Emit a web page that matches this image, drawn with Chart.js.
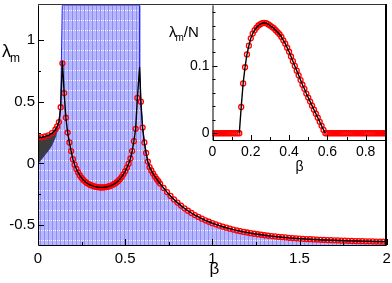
<!DOCTYPE html>
<html>
<head>
<meta charset="utf-8">
<script src="https://cdn.jsdelivr.net/npm/chart.js@4/dist/chart.umd.min.js"></script>
<style>
  html, body { margin: 0; padding: 0; background: #fff; }
  #wrap { position: relative; width: 392px; height: 283px; }
  #wrap canvas { position: absolute; left: 0; top: 0; }
</style>
</head>
<body>
<div id="wrap">
  <canvas id="mainChart" width="392" height="283"></canvas>
  <canvas id="insetChart" width="392" height="283"></canvas>
</div>
<script>
// ---- main panel: lambda_m vs beta (red circles) ----
const dotBeta = [
  0, 0.02, 0.04, 0.06, 0.08, 0.10, 0.11, 0.12, 0.13, 0.14,
  0.15, 0.16, 0.17, 0.18, 0.19, 0.20, 0.21, 0.22, 0.23, 0.24,
  0.25, 0.26, 0.27, 0.28, 0.29, 0.30, 0.31, 0.32, 0.33, 0.34,
  0.35, 0.36, 0.37, 0.38, 0.39, 0.40, 0.41, 0.42, 0.43, 0.44,
  0.45, 0.46, 0.47, 0.48, 0.49, 0.50, 0.51, 0.52, 0.53, 0.54,
  0.55, 0.56, 0.57, 0.59, 0.60, 0.61, 0.62, 0.63, 0.64, 0.65,
  0.66, 0.67, 0.68, 0.69, 0.70, 0.72, 0.74, 0.76, 0.78, 0.80,
  0.82, 0.84, 0.86, 0.88, 0.90, 0.92, 0.94, 0.96, 0.98, 1.00,
  1.02, 1.04, 1.06, 1.08, 1.10, 1.12, 1.14, 1.16, 1.18, 1.20,
  1.22, 1.24, 1.26, 1.28, 1.30, 1.32, 1.34, 1.36, 1.38, 1.40,
  1.42, 1.44, 1.46, 1.48, 1.50, 1.52, 1.54, 1.56, 1.58, 1.60,
  1.62, 1.64, 1.66, 1.68, 1.70, 1.72, 1.74, 1.76, 1.78, 1.80,
  1.82, 1.84, 1.86, 1.88, 1.90, 1.92, 1.94, 1.96, 1.98, 2.00
];
const dotLambda = [
  0.210, 0.212, 0.218, 0.228, 0.245, 0.275, 0.300, 0.335, 0.455, 0.810,
  0.570, 0.370, 0.250, 0.170, 0.100, 0.035, -0.010, -0.045, -0.073, -0.097,
  -0.117, -0.133, -0.147, -0.158, -0.167, -0.174, -0.180, -0.185, -0.188, -0.191,
  -0.193, -0.194, -0.194, -0.193, -0.191, -0.188, -0.184, -0.179, -0.172, -0.164,
  -0.154, -0.142, -0.127, -0.109, -0.088, -0.063, -0.034, -0.002, 0.040, 0.100,
  0.180, 0.280, 0.530, 0.500, 0.290, 0.170, 0.085, 0.015, -0.030, -0.057,
  -0.082, -0.104, -0.125, -0.144, -0.163, -0.198, -0.232, -0.263, -0.291, -0.317,
  -0.341, -0.363, -0.383, -0.401, -0.418, -0.433, -0.447, -0.460, -0.472, -0.483,
  -0.493, -0.503, -0.512, -0.520, -0.528, -0.535, -0.542, -0.548, -0.554, -0.559,
  -0.564, -0.569, -0.573, -0.577, -0.581, -0.585, -0.588, -0.591, -0.594, -0.597,
  -0.599, -0.602, -0.604, -0.606, -0.608, -0.610, -0.612, -0.613, -0.615, -0.616,
  -0.618, -0.619, -0.620, -0.621, -0.622, -0.623, -0.624, -0.625, -0.626, -0.627,
  -0.628, -0.628, -0.629, -0.630, -0.630, -0.631, -0.632, -0.632, -0.633, -0.633
];
// cusp tops of the black curve
const peakBeta = [0.14, 0.583];
const peakLambda = [0.83, 0.78];
// blue lower edge of the dark region at small beta
const edgeBeta = [0, 0.02, 0.04, 0.06, 0.08, 0.10, 0.11, 0.12];
const edgeLambda = [0, 0.035, 0.07, 0.105, 0.15, 0.215, 0.27, 0.335];
// shaded beta band
const bandRange = [0.139, 0.583];

const mainXTicks = [0, 0.5, 1, 1.5, 2];
const mainXMinor = [0.25, 0.75, 1.25, 1.75];
const mainYTicks = [-0.5, 0, 0.5, 1];
const mainYMinor = [-0.25, 0.25, 0.75];

// ---- inset: lambda_m / N vs beta ----
const insetBeta = [
  0.00, 0.01, 0.02, 0.03, 0.04, 0.05, 0.06, 0.07, 0.08, 0.09,
  0.10, 0.11, 0.12, 0.13, 0.14, 0.15, 0.16, 0.17, 0.18, 0.19,
  0.20, 0.21, 0.22, 0.23, 0.24, 0.25, 0.26, 0.27, 0.28, 0.29,
  0.30, 0.31, 0.32, 0.33, 0.34, 0.35, 0.36, 0.37, 0.38, 0.39,
  0.40, 0.41, 0.42, 0.43, 0.44, 0.45, 0.46, 0.47, 0.48, 0.49,
  0.50, 0.51, 0.52, 0.53, 0.54, 0.55, 0.56, 0.57, 0.58, 0.59,
  0.60, 0.61, 0.62, 0.63, 0.64, 0.65, 0.66, 0.67, 0.68, 0.69,
  0.70, 0.71, 0.72, 0.73, 0.74, 0.75, 0.76, 0.77, 0.78, 0.79,
  0.80, 0.81, 0.82, 0.83, 0.84, 0.85, 0.86, 0.87, 0.88, 0.89,
  0.90, 0.91
];
const insetRatio = [
  0, 0, 0, 0, 0, 0, 0, 0, 0, 0,
  0, 0, 0, 0, 0, 0.039, 0.074, 0.098, 0.117, 0.130,
  0.141, 0.148, 0.153, 0.157, 0.160, 0.162, 0.1635, 0.164, 0.1635, 0.162,
  0.160, 0.158, 0.156, 0.153, 0.150, 0.147, 0.143, 0.138, 0.133, 0.127,
  0.121, 0.114, 0.107, 0.100, 0.093, 0.086, 0.079, 0.072, 0.066, 0.059,
  0.053, 0.047, 0.041, 0.035, 0.029, 0.023, 0.017, 0.011, 0.005, 0,
  0, 0, 0, 0, 0, 0, 0, 0, 0, 0,
  0, 0, 0, 0, 0, 0, 0, 0, 0, 0,
  0, 0, 0, 0, 0, 0, 0, 0, 0, 0,
  0, 0
];
const insetXTicks = [0, 0.2, 0.4, 0.6, 0.8];
const insetXMinor = [0.1, 0.3, 0.5, 0.7];
const insetYTicks = [0, 0.1];
const insetYMinor = [0.02, 0.04, 0.06, 0.08, 0.12, 0.14, 0.16, 0.18];

const FONT = "'Liberation Sans', Arial, Helvetica, sans-serif";
const RED = 'rgb(255,0,0)';

const pts = (xs, ys) => xs.map((x, i) => ({ x: x, y: ys[i] }));

// main series
const dots = pts(dotBeta, dotLambda);
const curve = dots.filter(p => !peakBeta.includes(p.x))
  .concat(pts(peakBeta, peakLambda))
  .sort((a, b) => a.x - b.x);

const Y_MIN = -0.66, Y_MAX = 1.28;
const edgeEnd = edgeBeta[edgeBeta.length - 1];
const bandPoly = pts(edgeBeta, edgeLambda)
  .concat(curve.filter(p => p.x > edgeEnd && p.x < bandRange[0]))
  .concat([{ x: bandRange[0], y: Y_MAX }, { x: bandRange[1], y: Y_MAX }])
  .concat(curve.filter(p => p.x >= bandRange[1]));
const darkTop = curve.filter(p => p.x <= edgeEnd);
const edgeLine = pts(edgeBeta, edgeLambda);

// inset series
const insetDots = pts(insetBeta, insetRatio);
const insetLine = insetDots.filter((p, i) =>
  p.y > 0 || insetRatio[i + 1] > 0 || insetRatio[i - 1] > 0);

function bandPattern(ctx) {
  const c = document.createElement('canvas');
  c.width = 4; c.height = 10;
  const g = c.getContext('2d');
  g.fillStyle = 'rgb(184,184,255)';
  g.fillRect(0, 0, 4, 10);
  g.fillStyle = 'rgb(140,140,242)';
  g.fillRect(0, 0, 1, 10);
  g.fillStyle = '#ffffff';
  g.fillRect(1, 0, 1, 1);
  g.fillRect(3, 0, 1, 1);
  return ctx.createPattern(c, 'repeat');
}

function tickMarks(ctx, chart, t) {
  const a = chart.chartArea, sx = chart.scales.x, sy = chart.scales.y;
  ctx.beginPath();
  const vx = (v, len) => {
    const px = Math.round(sx.getPixelForValue(v)) + 0.5;
    ctx.moveTo(px, a.bottom); ctx.lineTo(px, a.bottom - len);
  };
  const vy = (v, len) => {
    const py = Math.round(sy.getPixelForValue(v)) + 0.5;
    ctx.moveTo(a.left, py); ctx.lineTo(a.left + len, py);
  };
  t.xMajor.forEach(v => vx(v, t.major));
  t.xMinor.forEach(v => vx(v, t.minor));
  t.yMajor.forEach(v => vy(v, t.major));
  t.yMinor.forEach(v => vy(v, t.minor));
  ctx.stroke();
}

// top and right edges of the outer box
function outerFrame(ctx, a) {
  ctx.fillStyle = '#333';
  ctx.fillRect(a.left, Math.round(a.top) - 1, a.right - a.left, 1);
  ctx.fillStyle = '#000';
  ctx.fillRect(Math.round(a.right) - 2, Math.round(a.top) - 1, 2, 246 - a.top);
}

const mainDeco = {
  id: 'mainDeco',
  afterDraw(chart) {
    const { ctx, chartArea: a } = chart;
    ctx.save();
    ctx.strokeStyle = '#000';
    ctx.lineWidth = 1;
    tickMarks(ctx, chart, { xMajor: mainXTicks, xMinor: mainXMinor,
      yMajor: mainYTicks, yMinor: mainYMinor, major: 6, minor: 3 });
    ctx.beginPath();
    ctx.moveTo(a.left + 0.5, a.top); ctx.lineTo(a.left + 0.5, a.bottom + 0.5);
    ctx.lineTo(a.right, a.bottom + 0.5);
    ctx.stroke();
    outerFrame(ctx, a);
    // axis titles
    ctx.fillStyle = '#000';
    ctx.textBaseline = 'alphabetic';
    ctx.textAlign = 'center';
    ctx.font = '17px ' + FONT;
    ctx.fillText('β', (a.left + a.right) / 2 + 2, 274);
    ctx.textAlign = 'left';
    ctx.font = '18px ' + FONT;
    ctx.fillText('λ', 2, 57);
    const w = ctx.measureText('λ').width;
    ctx.font = '12px ' + FONT;
    ctx.fillText('m', 2 + w - 1, 62);
    ctx.restore();
  }
};

const insetDeco = {
  id: 'insetDeco',
  afterDraw(chart) {
    const { ctx, chartArea: a } = chart;
    ctx.save();
    ctx.strokeStyle = '#000';
    ctx.lineWidth = 1;
    tickMarks(ctx, chart, { xMajor: insetXTicks, xMinor: insetXMinor,
      yMajor: insetYTicks, yMinor: insetYMinor, major: 5, minor: 3 });
    ctx.beginPath();
    ctx.moveTo(a.left + 0.5, a.top); ctx.lineTo(a.left + 0.5, a.bottom + 0.5);
    ctx.lineTo(a.right, a.bottom + 0.5);
    ctx.stroke();
    outerFrame(ctx, a);
    ctx.fillStyle = '#000';
    ctx.textBaseline = 'alphabetic';
    ctx.textAlign = 'center';
    ctx.font = '14px ' + FONT;
    ctx.fillText('β', (a.left + a.right) / 2, 171);
    ctx.textAlign = 'left';
    ctx.font = '15px ' + FONT;
    ctx.fillText('λ', 169, 37);
    let x = 169 + ctx.measureText('λ').width - 1;
    ctx.font = '10px ' + FONT;
    ctx.fillText('m', x, 41);
    x += ctx.measureText('m').width;
    ctx.font = '15px ' + FONT;
    ctx.fillText('/N', x, 37);
    ctx.restore();
  }
};

// fixed axis boxes; drop the automatic half-label padding
function axis(min, max, ticks, size, pad, fit) {
  return {
    type: 'linear', min: min, max: max,
    afterBuildTicks: s => { s.ticks = ticks.map(v => ({ value: v })); },
    afterFit: s => {
      fit(s);
      s.paddingTop = 0; s.paddingBottom = 0;
      s.paddingLeft = 0; s.paddingRight = 0;
    },
    grid: { display: false, drawTicks: false },
    border: { display: false },
    ticks: {
      color: '#000', padding: pad, autoSkip: false, maxRotation: 0,
      font: { family: FONT, size: size },
      callback: v => String(v)
    }
  };
}

const mainCtx = document.getElementById('mainChart').getContext('2d');
new Chart(mainCtx, {
  type: 'line',
  data: {
    datasets: [
      { data: curve, order: 0, borderColor: '#000', borderWidth: 1.4,
        pointRadius: 0, fill: false, tension: 0 },
      { data: dots, order: 1, showLine: false, pointRadius: 2.5,
        pointBorderWidth: 1.3, pointBorderColor: RED,
        pointBackgroundColor: 'rgba(0,0,0,0)' },
      { data: darkTop, order: 2, borderWidth: 0, pointRadius: 0,
        fill: 3, backgroundColor: 'rgb(60,60,60)' },
      { data: edgeLine, order: 3, borderWidth: 0, pointRadius: 0, fill: false },
      { data: bandPoly, order: 4, borderColor: 'rgb(40,40,255)', borderWidth: 1,
        pointRadius: 0, fill: 'start', backgroundColor: bandPattern(mainCtx) }
    ]
  },
  options: {
    responsive: false,
    animation: false,
    devicePixelRatio: 1,
    layout: { padding: { top: 2, right: 4, left: 0, bottom: 0 } },
    plugins: { legend: { display: false }, tooltip: { enabled: false } },
    scales: {
      x: axis(0, 2, mainXTicks, 15, 5, s => { s.height = 38; }),
      y: axis(Y_MIN, Y_MAX, mainYTicks, 15, 3, s => { s.width = 38; })
    }
  },
  plugins: [mainDeco]
});

const insetCtx = document.getElementById('insetChart').getContext('2d');
new Chart(insetCtx, {
  type: 'line',
  data: {
    datasets: [
      { data: insetLine, order: 0, borderColor: '#000', borderWidth: 1.4,
        pointRadius: 0, fill: false },
      { data: insetDots, order: 1, showLine: false, pointRadius: 2.5,
        pointBorderWidth: 1.3, pointBorderColor: RED,
        pointBackgroundColor: 'rgba(0,0,0,0)' }
    ]
  },
  options: {
    responsive: false,
    animation: false,
    devicePixelRatio: 1,
    layout: { padding: { top: 2, right: 4, left: 0, bottom: 0 } },
    plugins: { legend: { display: false }, tooltip: { enabled: false } },
    scales: {
      x: axis(0, 0.91, insetXTicks, 14, 4, s => { s.height = 143; }),
      y: axis(-0.01, 0.19, insetYTicks, 14, 3, s => { s.width = 212.5; })
    }
  },
  plugins: [insetDeco]
});
</script>
</body>
</html>
